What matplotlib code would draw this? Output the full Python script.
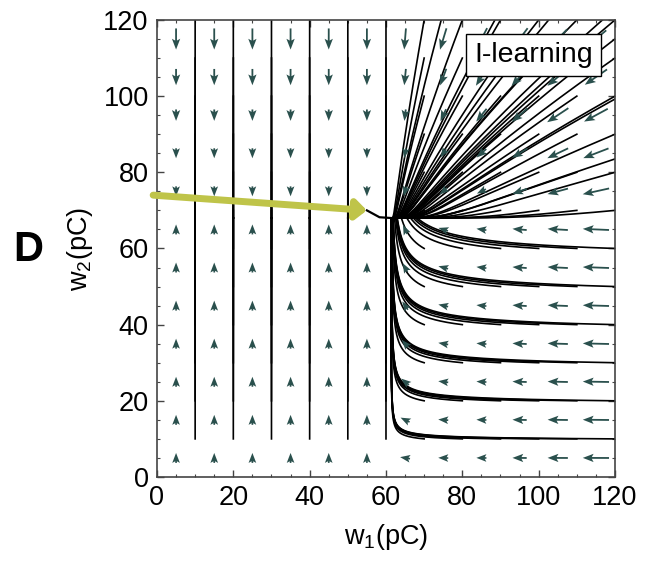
import numpy as np
import matplotlib
matplotlib.use("Agg")
import matplotlib.pyplot as plt
from matplotlib.patches import FancyArrowPatch

plt.rcParams["font.family"] = ["Liberation Sans", "DejaVu Sans"]
plt.rcParams["mathtext.default"] = "regular"

# ---- learning dynamics (w1, w2 in pC) ----
W1_STAR = 61.3      # w1 settles here once above threshold
W2_STAR = 68.0      # w2 settles here
RATE_W1 = 0.5       # relaxation rate of w1
RATE_W2 = 0.4       # relaxation rate of w2 from above
OFFSET_W2 = 10.0    # extra drive of w2 from above
SOFT_W2 = 2.0       # the extra drive fades out within this distance of W2_STAR
GROW_W2 = 0.135     # growth rate of w2 from below (w1 above threshold)
SOFT_W1 = 0.3       # softening of the w1 gate on w2 growth
RISE_W2 = 0.5       # growth of w2 from below (w1 below threshold)

# starting points of the trajectories
seed_w1 = [10, 20, 30, 40, 50, 60, 70, 80, 90, 100, 110, 120]
seed_w2 = [10, 20, 30, 40, 50, 60, 70, 80, 90, 100, 110, 120]
far_top_w1 = [80, 100, 120, 140]
far_top_w2 = [140]
far_side_w1 = [140]
far_side_w2 = [90, 110, 130]

# vector-field sampling grid
grid_w1 = [5, 15, 25, 35, 45, 55, 65, 75, 85, 95, 105, 115]
grid_w2 = [5, 15, 25, 35, 45, 55, 65, 75, 85, 95, 105, 115]

# highlighted path
path_w1 = [0, 55]
path_w2 = [74, 70]
link_w1 = [55, 58.3, W1_STAR]
link_w2 = [70, 68.2, W2_STAR]

ticks = [0, 20, 40, 60, 80, 100, 120]


def velocity(w1, w2):
    u = np.clip(w1 - W1_STAR, 0, None)
    v = np.clip(w2 - W2_STAR, 0, None)
    d1 = -RATE_W1 * u
    grow = np.where(w1 > W1_STAR,
                    GROW_W2 * w2 / (np.sqrt(u) + SOFT_W1), RISE_W2)
    decay = -RATE_W2 * (v + OFFSET_W2 * v / (v + SOFT_W2))
    d2 = np.where(w2 > W2_STAR, decay, grow)
    return d1, d2


def integrate(x0, y0, dt=0.004, steps=30000, keep=10):
    x = np.array(x0, float)
    y = np.array(y0, float)
    xs, ys = [x.copy()], [y.copy()]
    for i in range(steps):
        d1, d2 = velocity(x, y)
        above = y > W2_STAR
        ny = y + dt * d2
        ny = np.where(above, np.maximum(ny, W2_STAR), np.minimum(ny, W2_STAR))
        x = x + dt * d1
        y = ny
        if i % keep == 0:
            xs.append(x.copy())
            ys.append(y.copy())
    return np.array(xs), np.array(ys)


S1, S2 = np.meshgrid(seed_w1, seed_w2)
T1, T2 = np.meshgrid(far_top_w1, far_top_w2)
R1, R2 = np.meshgrid(far_side_w1, far_side_w2)
x0 = np.concatenate([S1.ravel(), T1.ravel(), R1.ravel()])
y0 = np.concatenate([S2.ravel(), T2.ravel(), R2.ravel()])
traj_x, traj_y = integrate(x0, y0)

fig = plt.figure(figsize=(6.53, 5.64), dpi=100)
ax = fig.add_axes([0.2404, 0.1543, 0.7014, 0.8103])
ax.set_xlim(0, 120)
ax.set_ylim(0, 120)

for k in range(traj_x.shape[1]):
    ax.plot(traj_x[:, k], traj_y[:, k], color="black", lw=1.2, zorder=2)

# arrows of the field, drawn with a compressed length
G1, G2 = np.meshgrid(grid_w1, grid_w2)
U, V = velocity(G1.astype(float), G2.astype(float))
mag = np.hypot(U, V)
px_per_unit = 0.7014 * 653 / 120.0
length_px = np.clip(1.2 * mag - 6.0, 10.0, 27.0)
Ud = U / mag * length_px / px_per_unit
Vd = V / mag * length_px / px_per_unit
ax.quiver(G1, G2, Ud, Vd, angles="xy", scale_units="xy", scale=1,
          pivot="middle", units="dots", width=1.8, headwidth=4.6,
          headlength=6.0, headaxislength=5.0, color="#2a504d", zorder=3)

# highlighted path
ax.plot(link_w1, link_w2, color="black", lw=1.6, zorder=4)
arrow = FancyArrowPatch((path_w1[0] - 1, path_w2[0]), (path_w1[1], path_w2[1]),
                        arrowstyle="-|>,head_length=0.45,head_width=0.4",
                        mutation_scale=14, lw=5.0, color="#bfc449",
                        zorder=5, clip_on=False, shrinkA=0, shrinkB=0)
ax.add_patch(arrow)

ax.text(98.6, 110.8, "I-learning", fontsize=20.5, ha="center", va="center",
        zorder=6,
        bbox=dict(boxstyle="square,pad=0.28", fc="white", ec="black", lw=1.0))

ax.set_xticks(ticks)
ax.set_yticks(ticks)
ax.set_xticks(np.arange(0, 121, 5), minor=True)
ax.set_yticks(np.arange(0, 121, 5), minor=True)
ax.tick_params(which="both", direction="in", top=True, right=True,
               colors="#444444", labelcolor="black")
ax.tick_params(which="major", length=5, width=1.0, labelsize=19.5, pad=6)
ax.tick_params(which="minor", length=2.5, width=0.8)
for s in ax.spines.values():
    s.set_color("#444444")
    s.set_linewidth(1.2)

ax.set_xlabel("w$_1$(pC)", fontsize=19.5, labelpad=8)
ax.set_ylabel("w$_2$(pC)", fontsize=19.5, labelpad=6)
fig.text(0.043, 0.557, "D", fontsize=30, fontweight="bold", ha="center",
         va="center")

fig.savefig("out.png", dpi=100)
